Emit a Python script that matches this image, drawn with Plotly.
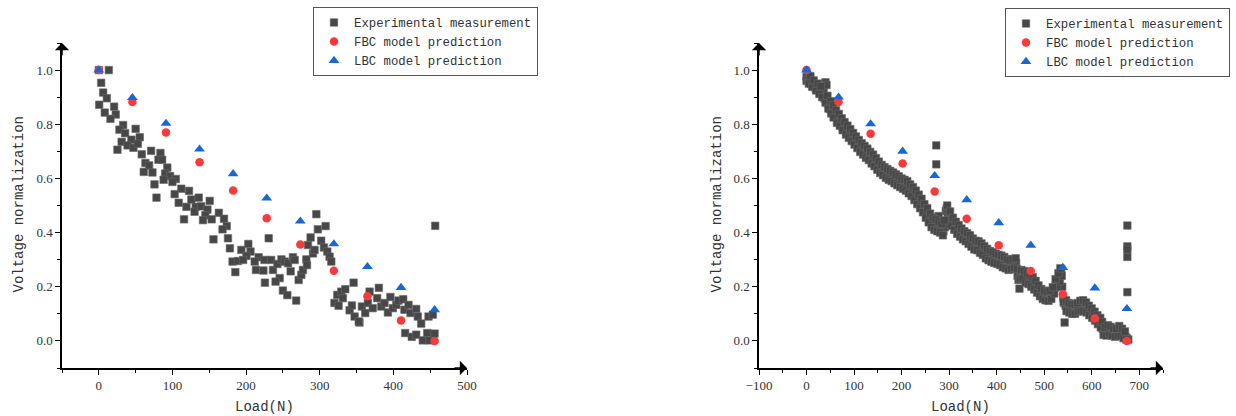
import plotly.graph_objects as go

W, H = 1236, 416

# ---------------- Left chart data ----------------
left_exp_load = [0, 13.6, 3.2, 5.9, 10.9, 0.5, 20.8, 8.1, 23, 15.8, 33, 28, 50, 35.7, 55.6, 31, 44.3, 39, 47, 53,
                 25.3, 58.3, 71, 83.7, 81, 86, 63.3, 68.3, 61, 72.8, 93, 90, 96.8, 88, 104.5, 100, 75.6, 78.3, 112, 122.5,
                 103, 108.5, 119, 125.7, 135.7, 131.6, 115.7, 130, 139, 150.6, 147.5, 144.7, 141.5, 153.3, 163, 170, 173.7, 168, 155.7, 175.4,
                 178, 193.6, 203, 206, 200.5, 181.6, 189, 196, 185.4, 217, 211.7, 225, 234, 230.7, 213.4, 223.5, 236.5, 242.5, 248, 245.6,
                 225.6, 240, 250, 252.4, 257, 263.6, 266, 260.5, 256, 268, 271.4, 275, 277.2, 281.8, 282.7, 287.6, 284, 290.8, 293, 297.5,
                 302, 308, 295.4, 305.7, 310.3, 313.4, 315.7, 320, 325.6, 323.9, 329.3, 334.7, 346, 331.5, 340.6, 343.7, 347.4, 354, 357.3, 361.8,
                 367.7, 365.4, 372, 380.3, 378, 383.6, 388, 392.6, 396, 399.3, 404, 407, 413.4, 415, 420.6, 423.3, 431, 433.2, 437.8, 447.7,
                 453.6, 416, 425, 431, 440, 446, 449, 456, 456.8, 353]
left_exp_volt = [1.0, 1.0, 0.953, 0.917, 0.896, 0.872, 0.865, 0.843, 0.836, 0.82, 0.797, 0.78, 0.783, 0.767, 0.752, 0.735, 0.743, 0.722, 0.713, 0.728,
                 0.706, 0.689, 0.702, 0.694, 0.669, 0.669, 0.657, 0.648, 0.624, 0.622, 0.64, 0.618, 0.609, 0.595, 0.598, 0.587, 0.578, 0.529, 0.562, 0.554,
                 0.542, 0.51, 0.495, 0.522, 0.529, 0.495, 0.449, 0.477, 0.497, 0.517, 0.485, 0.464, 0.446, 0.449, 0.473, 0.451, 0.424, 0.412, 0.375, 0.379,
                 0.342, 0.336, 0.358, 0.33, 0.314, 0.293, 0.295, 0.299, 0.254, 0.309, 0.293, 0.299, 0.299, 0.379, 0.262, 0.26, 0.262, 0.284, 0.301, 0.232,
                 0.215, 0.219, 0.186, 0.293, 0.287, 0.309, 0.299, 0.257, 0.169, 0.149, 0.225, 0.244, 0.262, 0.301, 0.28, 0.382, 0.354, 0.323, 0.336, 0.412,
                 0.37, 0.424, 0.468, 0.345, 0.33, 0.311, 0.293, 0.14, 0.13, 0.17, 0.182, 0.191, 0.215, 0.158, 0.113, 0.131, 0.09, 0.068, 0.127, 0.103,
                 0.182, 0.14, 0.121, 0.196, 0.158, 0.127, 0.14, 0.105, 0.162, 0.121, 0.133, 0.149, 0.154, 0.115, 0.133, 0.103, 0.118, 0.09, 0.064, 0.09,
                 0.097, 0.029, 0.015, 0.023, 0.002, 0.029, 0.002, 0.027, 0.425, 0.072]
left_model_load = [0, 45.6, 91.2, 136.8, 182.4, 228, 273.6, 319.2, 364.8, 410.4, 456]
left_fbc = [1.0, 0.882, 0.77, 0.66, 0.555, 0.453, 0.356, 0.259, 0.165, 0.075, 0.0]
left_lbc = [1.0, 0.898, 0.803, 0.708, 0.617, 0.527, 0.442, 0.358, 0.274, 0.197, 0.115]

# ---------------- Right chart data ----------------
right_exp_load_a = [0, 0, 3, 6, 8, 10, 13, 16, 19, 22, 25, 28, 31, 34, 36, 40, 42, 38, 42, 45, 48, 50, 53, 55, 58, 61, 63, 66, 69, 72,
                    75, 78, 81, 84, 87, 90, 93, 96, 99, 102, 105, 108, 111, 114, 117, 120, 123, 126, 129, 132, 135, 138, 141, 144, 147, 150, 153, 156, 159, 162,
                    165, 168, 171, 174, 177, 180, 183, 186, 189, 192, 195, 198, 201, 204, 207, 210, 213, 216, 219, 222, 225, 228, 231, 234, 237, 240, 243, 246, 249, 252,
                    255, 258, 261, 264, 267, 270, 273, 276, 279, 282, 285, 288, 291, 293, 295, 297, 300, 303, 306, 309, 312, 315, 318, 321, 324, 327, 330, 333, 336, 339,
                    342, 345, 348, 351, 354, 357, 360, 363, 366, 369, 372, 375, 378, 381, 384, 387, 390, 393, 396, 399, 402, 405, 408, 411, 414, 417, 420, 423, 426, 429,
                    432, 435, 438, 441, 444, 446, 448, 450, 453, 456, 459, 462, 465, 468, 471, 474, 477, 480, 483, 486, 489, 492, 495, 498, 501, 504, 507, 510, 513, 516,
                    519, 522, 525, 528, 531, 534, 536, 538, 540, 543, 542, 545, 548, 551, 554, 557, 560, 563, 566, 569, 572, 575, 578, 581, 584, 587, 590, 593, 596, 599,
                    602, 605, 608, 611, 614, 617, 620, 623, 626, 629, 632, 635, 638, 641, 644, 647, 650, 653, 656, 659, 662, 665, 668, 671, 674, 677,
                    273, 273, 278, 675, 675, 675, 675, 675]
right_exp_volt_a = [0.975, 0.96, 0.965, 0.955, 0.97, 0.948, 0.955, 0.945, 0.935, 0.94, 0.925, 0.93, 0.918, 0.91, 0.925, 0.955, 0.945, 0.895, 0.885, 0.875, 0.868, 0.855, 0.86, 0.842, 0.838, 0.828, 0.835, 0.815, 0.808, 0.8,
                    0.792, 0.785, 0.78, 0.772, 0.768, 0.76, 0.752, 0.748, 0.74, 0.738, 0.728, 0.722, 0.718, 0.708, 0.705, 0.702, 0.695, 0.69, 0.685, 0.68, 0.672, 0.668, 0.665, 0.662, 0.652, 0.645, 0.64, 0.632, 0.628, 0.625,
                    0.62, 0.616, 0.612, 0.61, 0.607, 0.604, 0.6, 0.596, 0.594, 0.59, 0.586, 0.582, 0.578, 0.575, 0.572, 0.568, 0.564, 0.558, 0.553, 0.548, 0.542, 0.535, 0.528, 0.52, 0.513, 0.505, 0.498, 0.49, 0.478, 0.468,
                    0.458, 0.448, 0.44, 0.435, 0.43, 0.428, 0.425, 0.422, 0.42, 0.418, 0.412, 0.405, 0.42, 0.48, 0.49, 0.472, 0.462, 0.45, 0.44, 0.432, 0.425, 0.415, 0.408, 0.402, 0.396, 0.392, 0.388, 0.385, 0.382, 0.376,
                    0.37, 0.366, 0.36, 0.356, 0.35, 0.346, 0.355, 0.35, 0.342, 0.338, 0.333, 0.328, 0.322, 0.318, 0.315, 0.312, 0.31, 0.308, 0.305, 0.302, 0.3, 0.298, 0.296, 0.294, 0.29, 0.286, 0.284, 0.282, 0.28, 0.278,
                    0.28, 0.285, 0.29, 0.288, 0.24, 0.225, 0.193, 0.245, 0.25, 0.244, 0.238, 0.232, 0.228, 0.225, 0.222, 0.218, 0.214, 0.205, 0.198, 0.19, 0.182, 0.176, 0.172, 0.17, 0.167, 0.165, 0.163, 0.162, 0.168, 0.175,
                    0.182, 0.195, 0.21, 0.222, 0.235, 0.25, 0.265, 0.2, 0.16, 0.068, 0.14, 0.13, 0.125, 0.122, 0.12, 0.118, 0.116, 0.115, 0.118, 0.122, 0.125, 0.13, 0.132, 0.128, 0.126, 0.124, 0.12, 0.115, 0.108, 0.102,
                    0.096, 0.09, 0.085, 0.08, 0.072, 0.066, 0.058, 0.045, 0.035, 0.03, 0.04, 0.042, 0.038, 0.035, 0.03, 0.028, 0.025, 0.03, 0.035, 0.038, 0.03, 0.025, 0.02, 0.015, 0.01, 0.005,
                    0.722, 0.652, 0.461, 0.426, 0.349, 0.337, 0.31, 0.18]
right_exp_load_b = [5, 12, 20, 27, 33, 40, 46, 52, 57, 64, 70, 76, 83, 89, 95, 101, 107, 113, 119, 125, 131, 137, 143, 149, 155, 161, 167, 173, 179, 185,
                    191, 197, 203, 209, 215, 221, 227, 233, 239, 245, 251, 257, 263, 269, 275, 281, 287, 293, 299, 305, 311, 317, 323, 329, 335, 341, 347, 353, 359, 365,
                    371, 377, 383, 389, 395, 401, 407, 413, 419, 425, 431, 437, 443, 449, 455, 461, 467, 473, 479, 485, 491, 497, 503, 509, 515, 521, 527, 533, 537, 541,
                    547, 553, 559, 565, 571, 577, 583, 589, 595, 601, 607, 613, 619, 625, 631, 637, 643, 649, 655, 661, 667, 673]
right_exp_volt_b = [0.95, 0.938, 0.925, 0.912, 0.9, 0.88, 0.858, 0.84, 0.825, 0.805, 0.795, 0.778, 0.762, 0.75, 0.738, 0.725, 0.712, 0.698, 0.688, 0.676, 0.668, 0.655, 0.645, 0.632, 0.62, 0.612, 0.602, 0.595, 0.59, 0.582,
                    0.575, 0.568, 0.562, 0.555, 0.545, 0.535, 0.52, 0.505, 0.49, 0.475, 0.455, 0.438, 0.42, 0.41, 0.405, 0.4, 0.39, 0.43, 0.445, 0.425, 0.41, 0.395, 0.385, 0.375, 0.368, 0.358, 0.348, 0.338, 0.335, 0.325,
                    0.318, 0.305, 0.298, 0.292, 0.288, 0.285, 0.28, 0.272, 0.268, 0.262, 0.265, 0.27, 0.265, 0.228, 0.23, 0.215, 0.21, 0.2, 0.19, 0.178, 0.165, 0.155, 0.15, 0.148, 0.155, 0.175, 0.2, 0.22, 0.24, 0.145,
                    0.11, 0.105, 0.1, 0.1, 0.108, 0.112, 0.11, 0.105, 0.095, 0.085, 0.075, 0.062, 0.05, 0.022, 0.02, 0.028, 0.02, 0.015, 0.02, 0.018, 0.01, 0.005]
right_exp_load_c = [8, 15, 24, 30, 44, 51, 56, 62, 68, 74, 80, 86, 92, 98, 104, 110, 116, 122, 128, 134, 140, 146, 152, 158, 164, 170, 176, 182, 188, 194,
                    200, 206, 212, 218, 224, 230, 236, 242, 248, 254, 260, 266, 272, 278, 284, 290, 296, 302, 308, 314, 320, 326, 332, 338, 344, 350, 356, 362, 368, 374,
                    380, 386, 392, 398, 404, 410, 416, 422, 428, 434, 440, 452, 458, 464, 470, 476, 482, 488, 494, 500, 506, 512, 518, 524, 530, 534, 546, 552, 558, 564,
                    570, 576, 582, 588, 594, 600, 606, 612, 618, 622, 628, 634, 640, 646, 652, 658, 664, 670]
right_exp_volt_c = [0.978, 0.962, 0.95, 0.94, 0.905, 0.885, 0.87, 0.852, 0.838, 0.822, 0.808, 0.795, 0.782, 0.768, 0.755, 0.742, 0.73, 0.72, 0.71, 0.698, 0.688, 0.675, 0.662, 0.65, 0.642, 0.635, 0.628, 0.622, 0.615, 0.608,
                    0.6, 0.595, 0.59, 0.578, 0.568, 0.555, 0.54, 0.525, 0.505, 0.49, 0.47, 0.455, 0.448, 0.44, 0.432, 0.445, 0.5, 0.478, 0.455, 0.44, 0.428, 0.415, 0.405, 0.398, 0.39, 0.378, 0.37, 0.368, 0.36, 0.35,
                    0.34, 0.332, 0.328, 0.322, 0.318, 0.315, 0.31, 0.302, 0.298, 0.302, 0.305, 0.262, 0.258, 0.25, 0.242, 0.235, 0.222, 0.205, 0.192, 0.185, 0.182, 0.185, 0.198, 0.228, 0.25, 0.268, 0.15, 0.14, 0.135, 0.135,
                    0.14, 0.148, 0.15, 0.142, 0.13, 0.12, 0.108, 0.095, 0.085, 0.07, 0.05, 0.058, 0.052, 0.045, 0.045, 0.055, 0.045, 0.035]
right_exp_load = right_exp_load_a + right_exp_load_b + right_exp_load_c
right_exp_volt = right_exp_volt_a + right_exp_volt_b + right_exp_volt_c
right_model_load = [0, 67.4, 134.8, 202.2, 269.6, 337, 404.4, 471.8, 539.2, 606.6, 674]
right_fbc = [1.0, 0.882, 0.765, 0.655, 0.552, 0.451, 0.353, 0.258, 0.172, 0.083, 0.0]
right_lbc = [1.0, 0.9, 0.801, 0.7, 0.61, 0.521, 0.436, 0.353, 0.271, 0.195, 0.119]

names = ["Experimental measurement", "FBC model prediction", "LBC model prediction"]

GRAY = "#474747"
RED = "#FA3A3A"
BLUE = "#1468D8"
TXT = "#333333"
MONO = "Liberation Mono"
SERIF = "Liberation Serif"

fig = go.Figure()


def add_set(xa, ya, leg, ex, ey, mx, fbc, lbc):
    fig.add_trace(go.Scatter(x=ex, y=ey, mode="markers", name=names[0], xaxis=xa, yaxis=ya, legend=leg,
                             marker=dict(symbol="square", size=7.5, color=GRAY, line=dict(width=0.6, color="#6a6a6a"))))
    fig.add_trace(go.Scatter(x=mx, y=fbc, mode="markers", name=names[1], xaxis=xa, yaxis=ya, legend=leg,
                             marker=dict(symbol="circle", size=8.5, color=RED, line=dict(width=0))))
    fig.add_trace(go.Scatter(x=mx, y=lbc, mode="markers", name=names[2], xaxis=xa, yaxis=ya, legend=leg,
                             marker=dict(symbol="triangle-up", size=9.5, color=BLUE, line=dict(width=0))))


add_set("x", "y", "legend", left_exp_load, left_exp_volt, left_model_load, left_fbc, left_lbc)
add_set("x2", "y2", "legend2", right_exp_load, right_exp_volt, right_model_load, right_fbc, right_lbc)

ydom = [48 / H, 373 / H]


def xax(dom, rng, anchor):
    return dict(domain=dom, range=rng, anchor=anchor, automargin=False, showline=True, linecolor="black", linewidth=1.5,
                ticks="outside", ticklen=5, tickwidth=1.3, tickcolor="black", dtick=100, tick0=0,
                minor=dict(ticks="outside", ticklen=3, tickwidth=1.3, tickcolor="black", dtick=50, tick0=0),
                showgrid=False, zeroline=False, tickfont=dict(family=SERIF, size=13, color=TXT))


def yax(rng, anchor):
    return dict(domain=ydom, range=rng, anchor=anchor, automargin=False, showline=True, linecolor="black", linewidth=1.5,
                ticks="outside", ticklen=5, tickwidth=1.3, tickcolor="black", dtick=0.2, tick0=0, tickformat=".1f",
                minor=dict(ticks="outside", ticklen=3, tickwidth=1.3, tickcolor="black", dtick=0.1, tick0=0),
                showgrid=False, zeroline=False, tickfont=dict(family=SERIF, size=13, color=TXT))


legend_style = dict(xanchor="left", yanchor="top", bgcolor="white", bordercolor="#555555", borderwidth=1,
                    font=dict(family=MONO, size=12.3, color=TXT), tracegroupgap=0)

annotations = []
for xa, ya, xr, xlo, xmid, ymid_x in [("x", "y", 500, -50, 264, 18.5), ("x2", "y2", 750, -100, 961, 716.5)]:
    annotations.append(dict(x=xr, y=-0.1, xref=xa, yref=ya, ax=-14, ay=0, axref="pixel", ayref="pixel",
                            showarrow=True, arrowhead=1, arrowsize=1.6, arrowwidth=1.5, arrowcolor="black", text=""))
    annotations.append(dict(x=xlo, y=1.1, xref=xa, yref=ya, ax=0, ay=14, showarrow=True, arrowhead=1,
                            arrowsize=1.6, arrowwidth=1.5, arrowcolor="black", text=""))
    annotations.append(dict(x=xmid / W, y=1 - 406.5 / H, xref="paper", yref="paper", text="Load(N)", showarrow=False,
                            xanchor="center", yanchor="middle", font=dict(family=MONO, size=14, color=TXT)))
    annotations.append(dict(x=ymid_x / W, y=1 - 205 / H, xref="paper", yref="paper", text="Voltage normalization",
                            showarrow=False, textangle=-90, xanchor="center", yanchor="middle",
                            font=dict(family=MONO, size=14, color=TXT)))

fig.update_layout(
    width=W, height=H, margin=dict(l=0, r=0, t=0, b=0, autoexpand=False),
    paper_bgcolor="white", plot_bgcolor="white",
    xaxis=xax([62 / W, 467 / W], [-50, 500], "y"),
    yaxis=yax([-0.1, 1.1], "x"),
    xaxis2=xax([759 / W, 1163 / W], [-100, 750], "y2"),
    yaxis2=yax([-0.1, 1.1], "x2"),
    legend=dict(x=313 / W, y=1 - 7 / H, **legend_style),
    legend2=dict(x=1005 / W, y=1 - 8 / H, **legend_style),
    annotations=annotations,
    showlegend=True,
)

fig.write_html("out.html", config={"responsive": False, "displayModeBar": False},
               post_script="document.body.style.margin='0';document.body.style.overflow='hidden';")
